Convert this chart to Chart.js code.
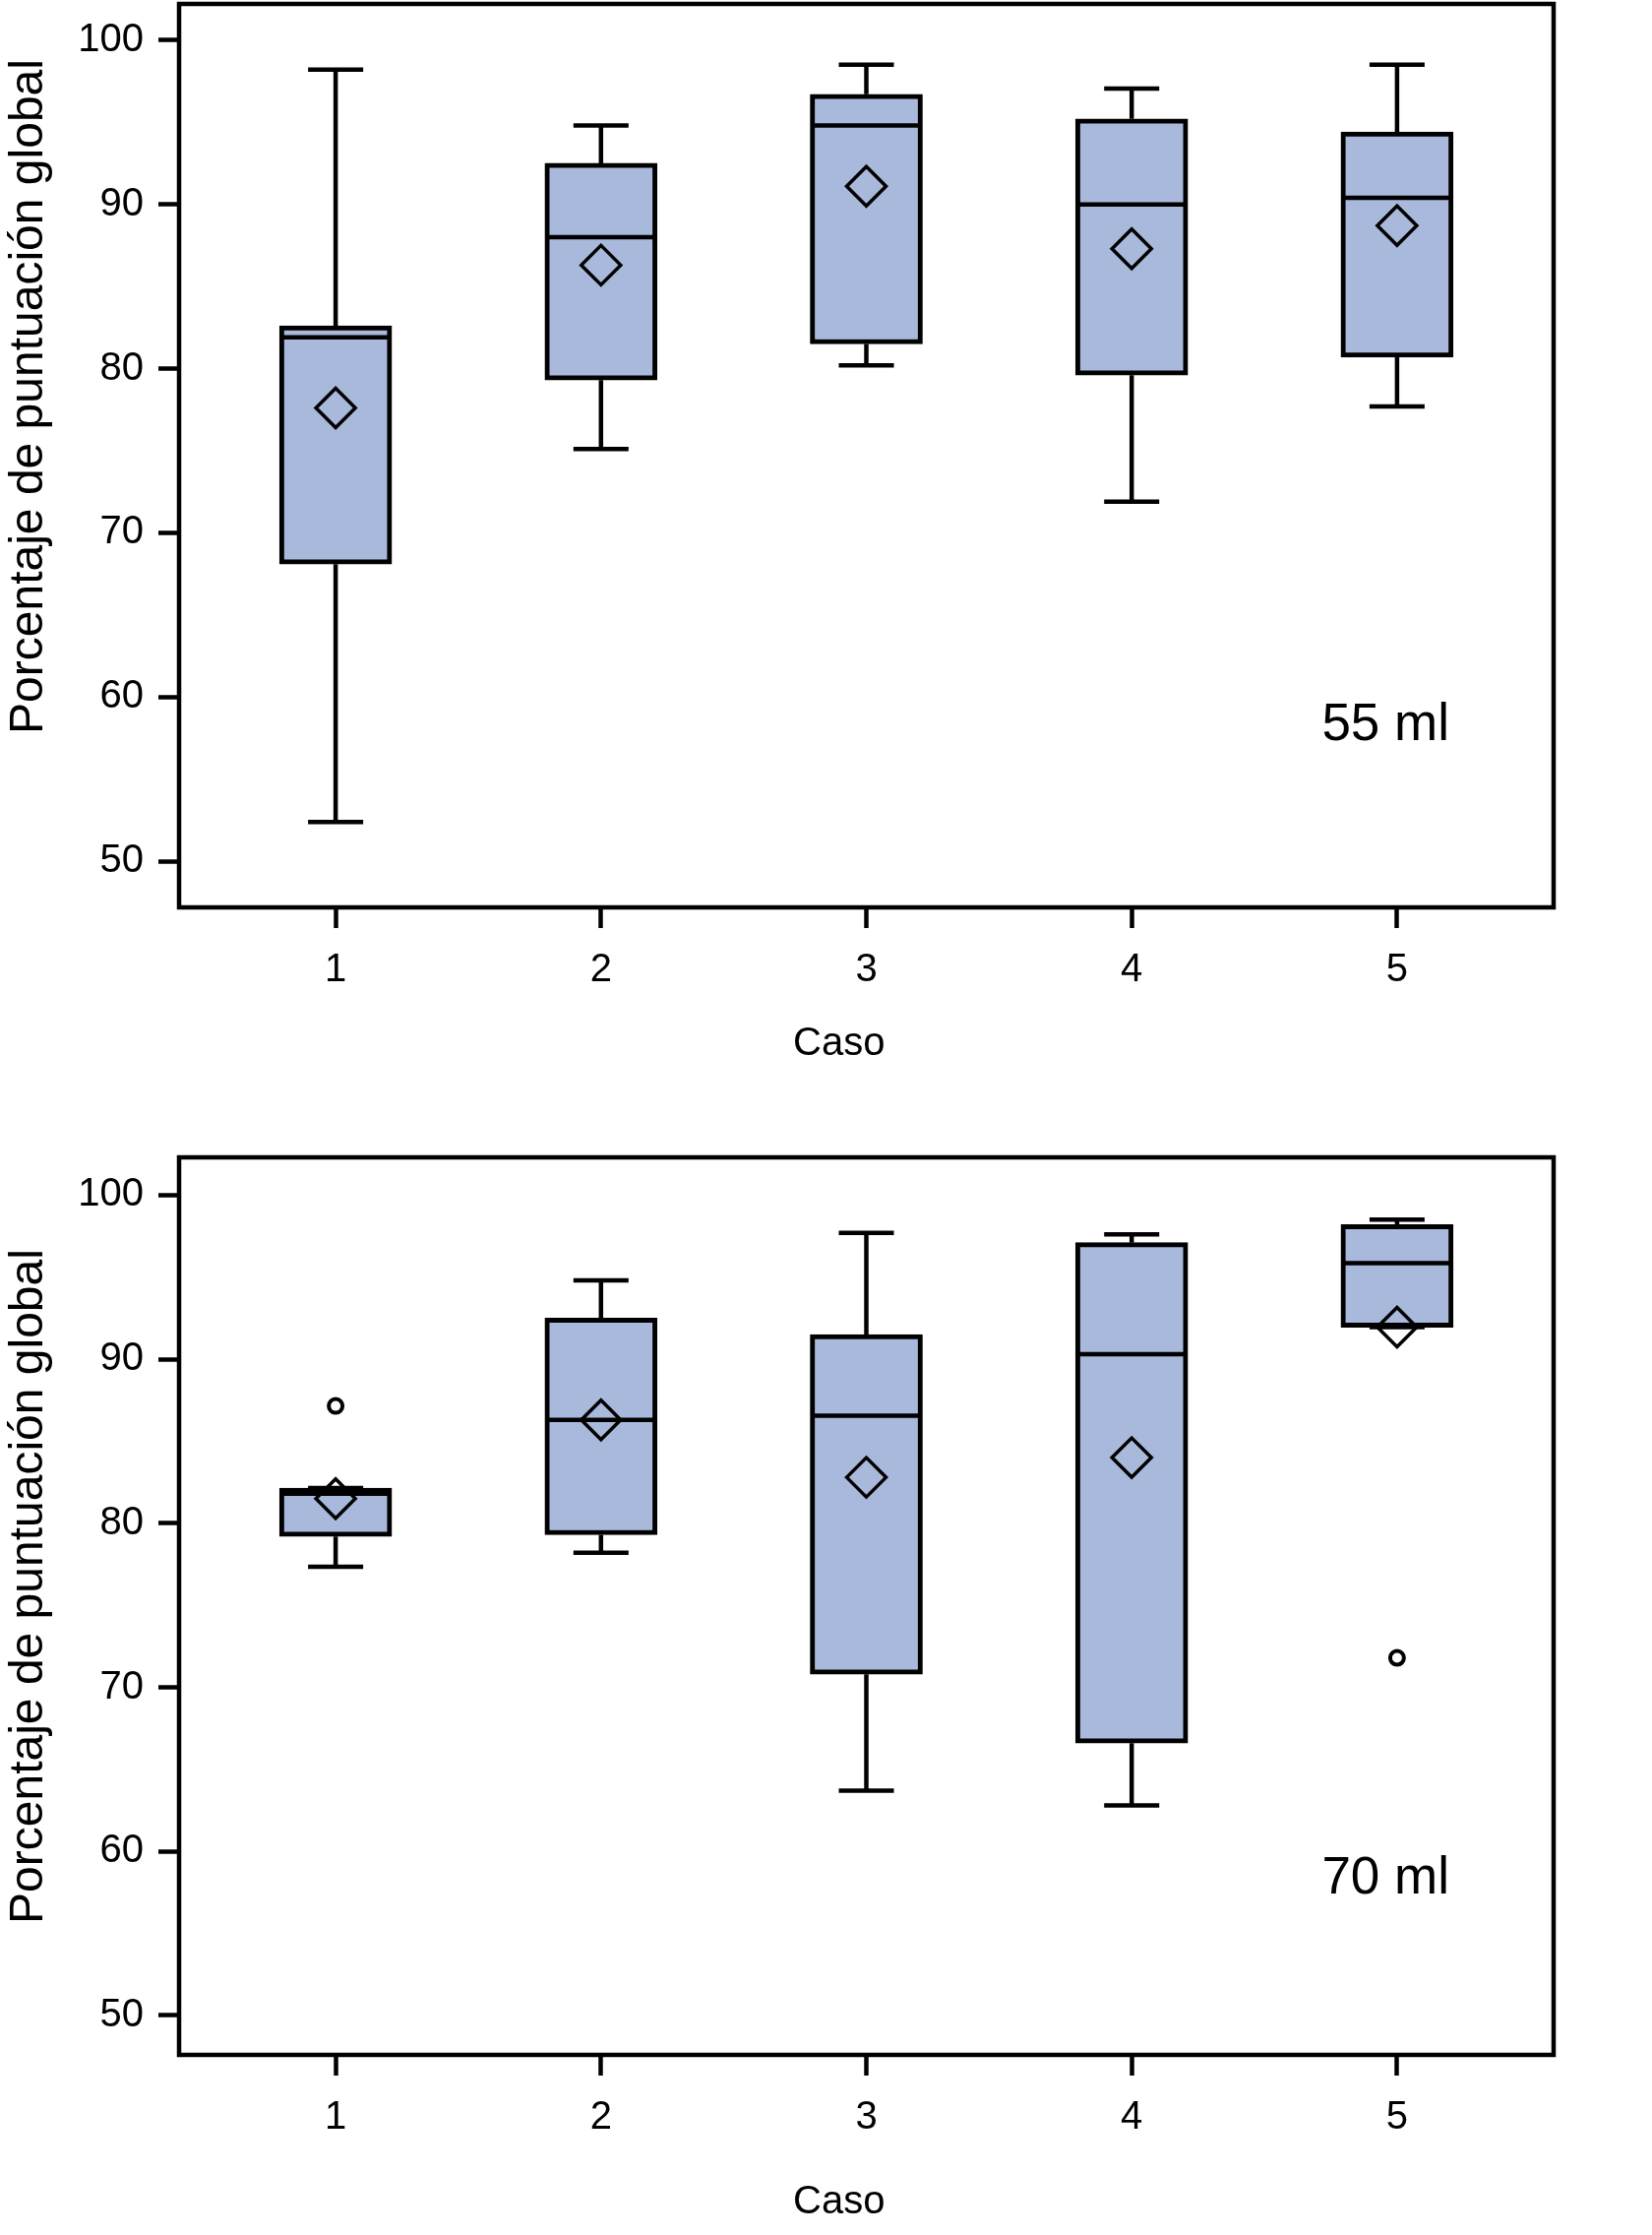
<!DOCTYPE html>
<html lang="es">
<head>
<meta charset="UTF-8">
<title>Porcentaje de puntuación global por caso</title>
<script src="https://cdn.jsdelivr.net/npm/chart.js@4.4.1/dist/chart.umd.min.js"></script>
<style>
  body { margin: 0; background: #fff; overflow: hidden; }
  .panel { position: absolute; left: 0; width: 1679px; }
</style>
</head>
<body>
<!-- Chart.js reserva ~58px arriba para las etiquetas; se compensa desplazando el lienzo -->
<div class="panel" style="top:-56px;height:1186px"><canvas id="chart55"></canvas></div>
<div class="panel" style="top:1116px;height:1155px"><canvas id="chart70"></canvas></div>

<script>
// Datos
const cases = [1, 2, 3, 4, 5];
const yTicks = [50, 60, 70, 80, 90, 100];

// 55 ml
const min55  = [52.4, 75.1, 80.2, 71.9, 77.7];
const q1_55  = [68.1, 79.3, 81.5, 79.6, 80.7];
const med55  = [81.9, 88.0, 94.8, 90.0, 90.4];
const q3_55  = [82.6, 92.5, 96.7, 95.2, 94.4];
const max55  = [98.2, 94.8, 98.5, 97.05, 98.5];
const mean55 = [77.6, 86.3, 91.1, 87.3, 88.7];
const out55  = [];

// 70 ml
const min70  = [77.35, 78.2, 63.7, 62.8, 91.95];
const q1_70  = [79.2, 79.3, 70.8, 66.6, 91.95];
const med70  = [81.8, 86.3, 86.55, 90.3, 95.85];
const q3_70  = [82.15, 92.5, 91.5, 97.1, 98.2];
const max70  = [82.15, 94.8, 97.7, 97.6, 98.5];
const mean70 = [81.5, 86.3, 82.8, 84.0, 91.95];
const out70  = [[1, 87.15], [5, 71.8]];

const boxFill = '#a9b9dc';
const ink = '#000';
const fontFamily = '"Liberation Sans", Arial, sans-serif';

// marco completo del área de trazado + rótulo del volumen
const framePlugin = {
  id: 'frame',
  afterDatasetsDraw(chart, args, opts) {
    const { ctx, chartArea: a } = chart;
    ctx.save();
    ctx.lineWidth = 4.5;
    ctx.strokeStyle = ink;
    ctx.strokeRect(a.left, a.top, a.right - a.left, a.bottom - a.top);
    ctx.font = '53px ' + fontFamily;
    ctx.fillStyle = ink;
    ctx.textAlign = 'right';
    ctx.textBaseline = 'alphabetic';
    ctx.fillText(opts.label, a.right - 106, a.top + 748);
    ctx.restore();
  }
};

function makeBoxChart(id, s, cfg) {
  const whiskers = [];
  const caps = [];
  cases.forEach((c, i) => {
    whiskers.push({ x: c, y: s.q3[i] }, { x: c, y: s.max[i] }, { x: c, y: null });
    whiskers.push({ x: c, y: s.min[i] }, { x: c, y: s.q1[i] }, { x: c, y: null });
    caps.push({ x: c, y: s.max[i] }, { x: c, y: s.min[i] });
  });

  return new Chart(document.getElementById(id), {
    type: 'scatter',
    data: {
      datasets: [
        {
          type: 'bar',
          data: cases.map((c, i) => ({ x: c, y: [s.q1[i], s.q3[i]] })),
          backgroundColor: boxFill,
          borderColor: ink,
          borderWidth: 5,
          borderSkipped: false,
          barThickness: 114,
          order: 5
        },
        {
          type: 'line',
          data: whiskers,
          borderColor: ink,
          borderWidth: 4.5,
          pointRadius: 0,
          spanGaps: false,
          order: 4
        },
        {
          data: cases.map((c, i) => ({ x: c, y: s.med[i] })),
          pointStyle: 'line',
          pointRadius: 55,
          borderColor: ink,
          borderWidth: 4.5,
          order: 3
        },
        {
          data: caps,
          pointStyle: 'line',
          pointRadius: 28,
          borderColor: ink,
          borderWidth: 4.5,
          order: 2
        },
        {
          data: cases.map((c, i) => ({ x: c, y: s.mean[i] })),
          pointStyle: 'rectRot',
          pointRadius: 20,
          backgroundColor: 'transparent',
          borderColor: ink,
          borderWidth: 3.5,
          order: 1
        },
        {
          data: s.out.map(p => ({ x: p[0], y: p[1] })),
          pointStyle: 'circle',
          pointRadius: 7,
          backgroundColor: 'transparent',
          borderColor: ink,
          borderWidth: 4,
          order: 0
        }
      ]
    },
    options: {
      responsive: true,
      maintainAspectRatio: false,
      animation: false,
      events: [],
      layout: { padding: { top: 60, right: 100, left: 0, bottom: 0 } },
      plugins: {
        legend: { display: false },
        tooltip: { enabled: false },
        frame: { label: cfg.label }
      },
      scales: {
        x: {
          type: 'linear',
          min: 0.41,
          max: 5.59,
          offset: false,
          afterBuildTicks: sc => { sc.ticks = cases.map(v => ({ value: v })); },
          afterFit: sc => { sc.height = cfg.xHeight; },
          border: { display: false },
          grid: { display: true, offset: false, drawOnChartArea: false, drawTicks: true,
                  tickLength: 21, tickWidth: 4.5, tickColor: ink },
          ticks: { color: ink, padding: 19, maxRotation: 0,
                   font: { family: fontFamily, size: 40 } },
          title: { display: true, text: 'Caso     ', color: ink,
                   padding: { top: 0, bottom: cfg.xTitlePad },
                   font: { family: fontFamily, size: 40, lineHeight: 1 } }
        },
        y: {
          type: 'linear',
          min: cfg.yMin,
          max: cfg.yMax,
          afterBuildTicks: sc => { sc.ticks = yTicks.map(v => ({ value: v })); },
          afterFit: sc => { sc.width = 182; },
          border: { display: false },
          grid: { display: true, drawOnChartArea: false, drawTicks: true,
                  tickLength: 21, tickWidth: 4.5, tickColor: ink },
          ticks: { color: ink, padding: 15,
                   font: { family: fontFamily, size: 40 } },
          title: { display: true, color: ink,
                   text: ' '.repeat(cfg.titleShift) + 'Porcentaje de puntuación global',
                   padding: { top: 6, bottom: 0 },
                   font: { family: fontFamily, size: 48, lineHeight: 1 } }
        }
      }
    },
    plugins: [framePlugin]
  });
}

makeBoxChart('chart55',
  { min: min55, q1: q1_55, med: med55, q3: q3_55, max: max55, mean: mean55, out: out55 },
  { label: '55 ml', xHeight: 208, xTitlePad: 49, yMin: 47.2, yMax: 102.2, titleShift: 9 });

makeBoxChart('chart70',
  { min: min70, q1: q1_70, med: med70, q3: q3_70, max: max70, mean: mean70, out: out70 },
  { label: '70 ml', xHeight: 183, xTitlePad: 13, yMin: 47.6, yMax: 102.3, titleShift: 3 });
</script>
</body>
</html>
